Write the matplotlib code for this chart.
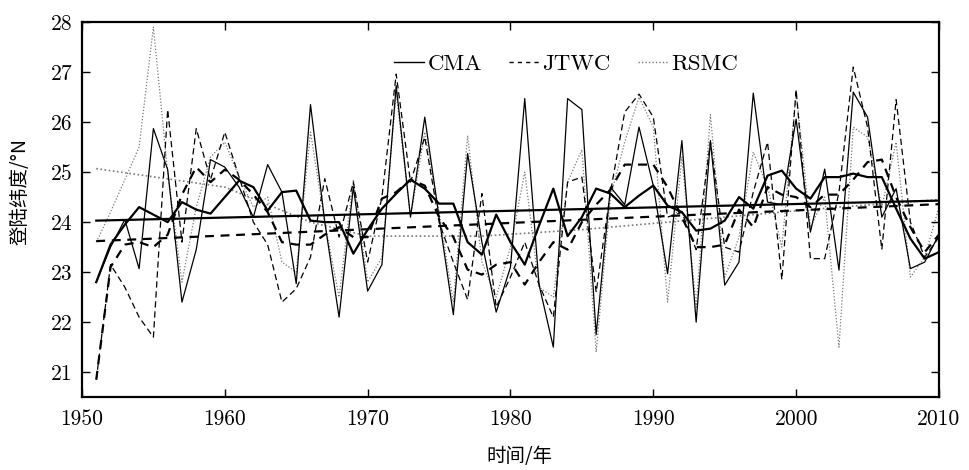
import matplotlib
matplotlib.use("Agg")
import matplotlib.pyplot as plt
from matplotlib.lines import Line2D

years = list(range(1951, 2011))

cma = [22.8, 23.5, 24.05, 23.07, 25.87, 25.05, 22.4, 23.45, 25.25, 25.1,
       24.7, 24.1, 25.15, 24.6, 22.77, 26.35, 24.0, 22.1, 24.7, 22.62,
       23.15, 26.73, 24.1, 26.1, 24.1, 22.15, 25.37, 23.6, 22.2, 23.1,
       26.47, 22.75, 21.5, 26.47, 26.25, 21.75, 24.7, 24.35, 25.9, 24.73,
       22.97, 25.63, 22.0, 25.63, 22.74, 23.2, 26.58, 24.4, 24.35, 26.06,
       23.8, 25.06, 23.04, 26.6, 26.1, 24.1, 24.67, 23.07, 23.2, 23.75]
cma_smooth = [22.8, 23.55, 23.95, 24.3, 24.15, 24.0, 24.4, 24.25, 24.17, 24.5,
              24.83, 24.7, 24.23, 24.6, 24.63, 24.03, 24.0, 24.0, 23.37, 23.85,
              24.27, 24.57, 24.85, 24.67, 24.37, 24.37, 23.6, 23.35, 24.15, 23.6,
              23.15, 23.93, 24.67, 23.72, 24.1, 24.67, 24.57, 24.3, 24.53, 24.73,
              24.33, 24.2, 23.83, 23.87, 24.03, 24.5, 24.27, 24.93, 25.03, 24.67,
              24.47, 24.9, 24.9, 24.97, 24.9, 24.9, 24.27, 23.67, 23.27, 23.4]

jtwc = [20.85, 23.15, 22.7, 22.1, 21.7, 26.25, 23.6, 25.87, 24.85, 25.8,
        24.9, 24.0, 23.55, 22.4, 22.67, 23.3, 24.87, 23.7, 24.8, 23.2,
        24.5, 26.96, 24.8, 25.7, 24.0, 23.2, 22.45, 24.57, 22.3, 22.9,
        23.6, 22.75, 22.1, 24.8, 24.9, 22.6, 24.6, 26.2, 26.56, 26.1,
        24.1, 24.2, 23.45, 25.6, 23.5, 23.4, 24.6, 25.6, 22.85, 26.65,
        23.27, 23.27, 24.6, 27.1, 25.9, 23.45, 26.45, 24.0, 23.3, 23.7]
jtwc_smooth = [20.85, 23.1, 23.55, 23.6, 23.5, 23.75, 24.55, 25.1, 24.8, 25.05,
               24.85, 24.55, 24.2, 23.6, 23.55, 23.55, 23.75, 23.9, 23.7, 23.7,
               24.47, 24.6, 24.85, 24.73, 24.1, 23.7, 23.05, 22.95, 23.15, 23.2,
               22.75, 23.2, 23.6, 23.45, 24.0, 24.35, 24.65, 25.15, 25.15, 25.15,
               24.7, 24.1, 23.5, 23.5, 23.55, 24.25, 23.9, 24.7, 24.55, 24.5,
               24.3, 24.55, 24.55, 24.85, 25.2, 25.25, 24.5, 23.9, 23.4, 23.75]

rsmc = [23.6, 24.2, 24.85, 25.5, 27.9, 25.0, 22.8, 24.3, 25.3, 25.6,
        24.9, 24.3, 24.5, 23.2, 23.0, 25.8, 24.0, 22.5, 24.85, 22.8,
        23.3, 26.6, 24.1, 25.8, 24.2, 22.4, 25.73, 23.2, 22.5, 23.5,
        25.0, 22.7, 22.5, 24.8, 25.45, 21.4, 24.5, 25.6, 26.5, 25.9,
        22.4, 25.3, 22.3, 26.15, 22.9, 23.7, 25.4, 24.7, 23.5, 26.6,
        23.9, 24.5, 21.5, 25.9, 25.7, 24.3, 25.6, 22.9, 23.3, 24.3]
rsmc_smooth_years = [1951, 1960, 1963, 1966, 1970, 1978, 1985, 1995, 2003, 2010]
rsmc_smooth = [25.07, 24.7, 24.35, 24.0, 23.72, 23.72, 23.85, 24.1, 24.3, 24.45]

trend_years = [1951, 2010]
cma_trend = [24.03, 24.43]
jtwc_trend = [23.62, 24.36]

xticks = [1950, 1960, 1970, 1980, 1990, 2000, 2010]
yticks = [21, 22, 23, 24, 25, 26, 27, 28]

fig = plt.figure(figsize=(9.69, 4.70), dpi=100)
ax = fig.add_axes([0.0846, 0.155, 0.8844, 0.798])

gray = '#7a7a7a'
ax.plot(years, rsmc, color=gray, lw=0.9, ls=(0, (1, 1.5)))
ax.plot(rsmc_smooth_years, rsmc_smooth, color=gray, lw=1.2, ls=(0, (1, 1.5)))
ax.plot(years, jtwc, color='black', lw=0.9, ls=(0, (5, 3)))
ax.plot(years, jtwc_smooth, color='black', lw=1.6, ls=(0, (4, 3)))
ax.plot(trend_years, jtwc_trend, color='black', lw=1.6, ls=(0, (4, 3)))
ax.plot(years, cma, color='black', lw=0.9)
ax.plot(years, cma_smooth, color='black', lw=1.6)
ax.plot(trend_years, cma_trend, color='black', lw=1.6)

ax.set_xlim(1950, 2010)
ax.set_ylim(20.5, 28)
ax.set_xticks(xticks)
ax.set_xticklabels([str(v) for v in xticks], family='cmr10', fontsize=15.5)
ax.set_yticks(yticks)
ax.set_yticklabels([str(v) for v in yticks], family='cmr10', fontsize=15.5)
ax.tick_params(direction='in', top=True, right=True, length=6, width=1.0)
ax.tick_params(axis='x', pad=9)
ax.tick_params(axis='y', pad=7)
for s in ax.spines.values():
    s.set_linewidth(1.6)

cjk = ['Noto Sans CJK SC', 'DejaVu Sans']
ax.set_ylabel('登陆纬度/°N', family=cjk, fontsize=14)
ax.yaxis.set_label_coords(-0.06, 0.547)
ax.set_xlabel('时间/年', family=cjk, fontsize=14)
ax.xaxis.set_label_coords(0.51, -0.13)

handles = [Line2D([], [], color='black', lw=1.0),
           Line2D([], [], color='black', lw=1.0, ls=(0, (3, 3))),
           Line2D([], [], color=gray, lw=1.0, ls=(0, (1, 1.5)))]
ax.legend(handles, ['CMA', 'JTWC', 'RSMC'], loc='upper center',
          bbox_to_anchor=(0.565, 0.97), ncol=3, frameon=False,
          prop={'family': 'cmr10', 'size': 16.5}, handlelength=1.3,
          handletextpad=0.15, columnspacing=1.2)

fig.savefig('out.png', dpi=100)
